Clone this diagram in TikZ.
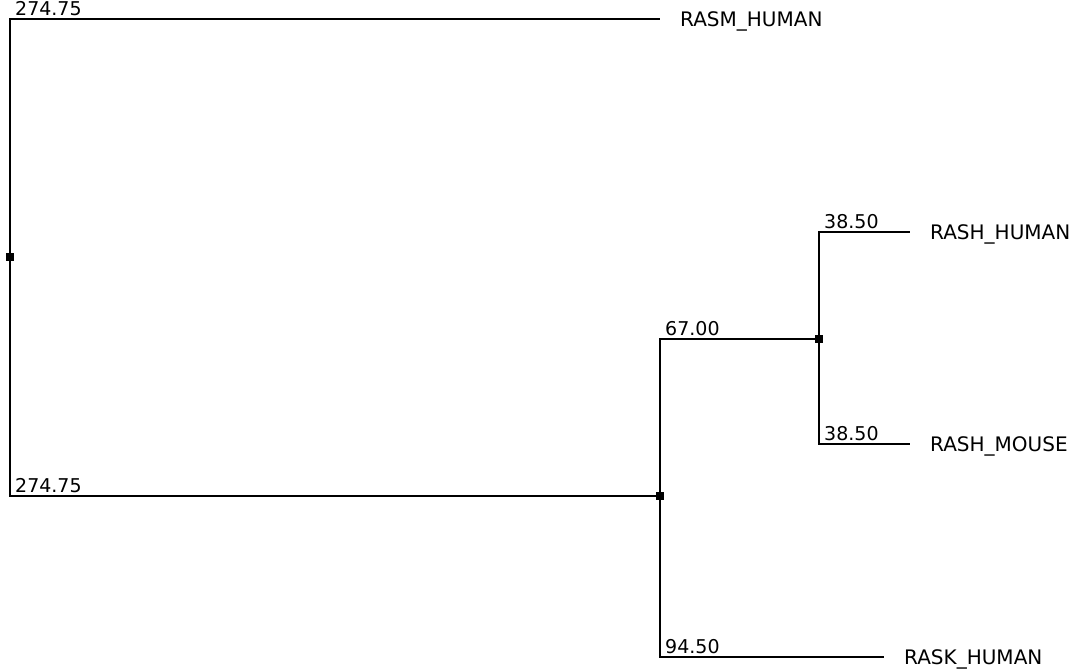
\documentclass[tikz,border=0pt]{standalone}
\usepackage{fontspec}
\setmainfont{DejaVu Sans}
\usetikzlibrary{positioning}

\begin{document}
\begin{tikzpicture}[
  x=1pt, y=-1pt,
  branch/.style={line width=2pt},
  joint/.style={fill=black,minimum size=8pt,inner sep=0pt},
  taxon/.style={anchor=base west,inner sep=0pt,font=\fontsize{20}{24}\selectfont,xshift=20pt,yshift=-7pt},
  blen/.style={anchor=base west,inner sep=0pt,font=\fontsize{19}{23}\selectfont,xshift=5pt,yshift=4pt}
]
\useasboundingbox (0,0) rectangle (1070,670);
% inner nodes
\node[joint] (root) at (10,257) {};
\node[joint] (ras) at (660,496) {};
\node[joint] (rash) at (819,339) {};
% branch tips
\coordinate (rasm) at (660,19);
\coordinate (rashh) at (910,232);
\coordinate (rashm) at (910,444);
\coordinate (rask) at (884,657);

\draw[branch] (root) |- (rasm);
\draw[branch] (root) |- (ras);
\draw[branch] (ras) |- (rash);
\draw[branch] (ras) |- (rask);
\draw[branch] (rash) |- (rashh);
\draw[branch] (rash) |- (rashm);

% leaf names
\node[taxon] (trasm) at (rasm) {RASM\_HUMAN};
\node[taxon] (trashh) at (rashh) {RASH\_HUMAN};
\node[taxon] (trashm) at (rashm) {RASH\_MOUSE};
\node[taxon] (trask) at (rask) {RASK\_HUMAN};

% branch lengths
\node[blen] (lrasm) at (root |- rasm) {274.75};
\node[blen] (lras) at (root |- ras) {274.75};
\node[blen] (lrash) at (ras |- rash) {67.00};
\node[blen] (lrask) at (ras |- rask) {94.50};
\node[blen] (lrashh) at (rash |- rashh) {38.50};
\node[blen] (lrashm) at (rash |- rashm) {38.50};
\end{tikzpicture}
\end{document}
